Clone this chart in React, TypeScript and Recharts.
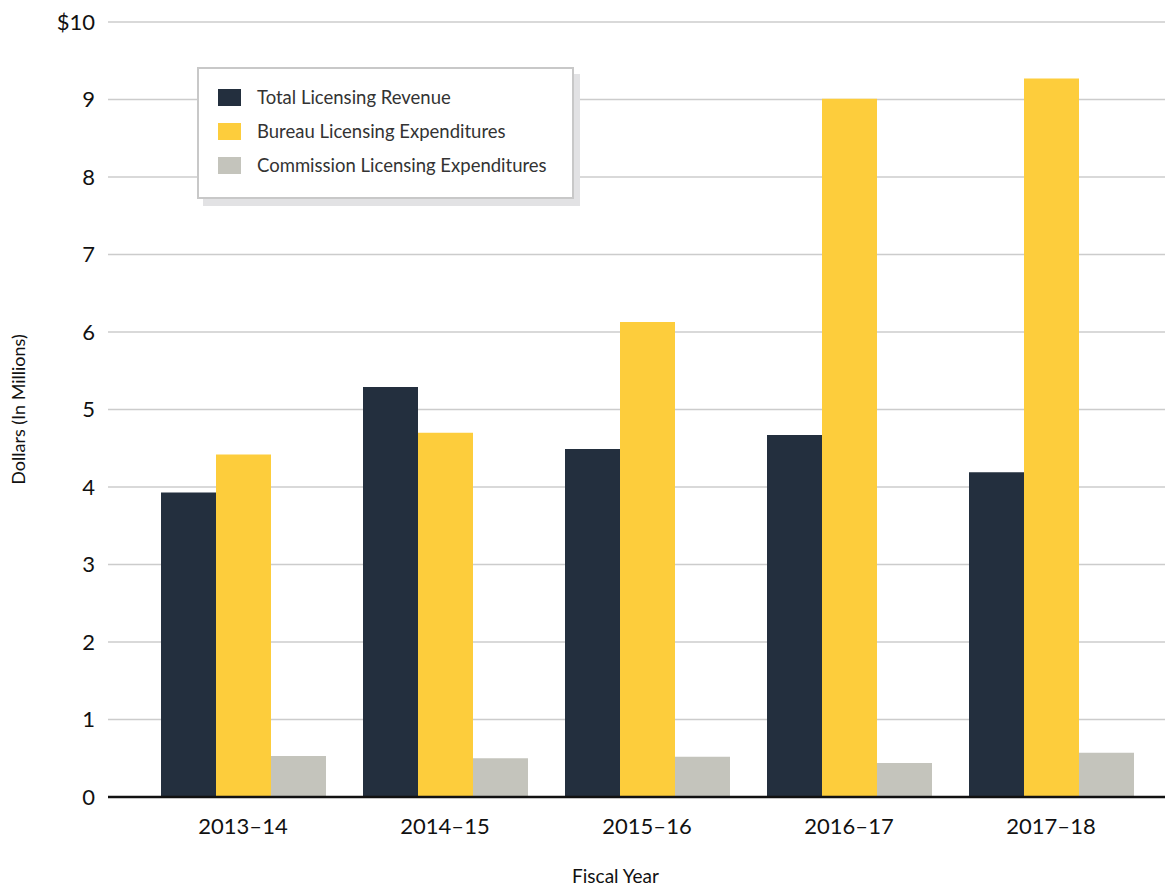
import React from "react"
import {
  BarChart, Bar, XAxis, YAxis, CartesianGrid,
} from "recharts"

const years = ["2013–14", "2014–15", "2015–16", "2016–17", "2017–18"]
const revenue = [3.93, 5.29, 4.49, 4.67, 4.19]
const bureau = [4.42, 4.70, 6.13, 9.01, 9.27]
const commission = [0.53, 0.50, 0.52, 0.44, 0.57]
const yTicks = [0, 1, 2, 3, 4, 5, 6, 7, 8, 9, 10]

const seriesInfo = [
  { key: "revenue", name: "Total Licensing Revenue", color: "#232F3E" },
  { key: "bureau", name: "Bureau Licensing Expenditures", color: "#FDCD3C" },
  { key: "commission", name: "Commission Licensing Expenditures", color: "#C4C4BC" },
]

const chartData = years.map((y, i) => ({
  year: y,
  revenue: revenue[i],
  bureau: bureau[i],
  commission: commission[i],
}))

// legend drawn as a plain box over the plot, like the original
const LegendBox = () => (
  <div
    style={{
      position: "absolute",
      left: 197,
      top: 67,
      width: 373,
      height: 117,
      border: "2px solid #c8c8c8",
      background: "#fff",
      boxShadow: "6px 7px 0 #e2e2e4",
      paddingTop: 11,
    }}
  >
    {seriesInfo.map((s) => (
      <div key={s.key} style={{ display: "flex", alignItems: "center", height: 34, marginLeft: 19 }}>
        <span style={{ width: 23, height: 17, background: s.color, display: "inline-block" }} />
        <span style={{ marginLeft: 16, fontFamily: "Lato", fontSize: 18.5, color: "#333" }}>{s.name}</span>
      </div>
    ))}
  </div>
)

export default function App() {
  return (
    <div style={{ position: "absolute", left: 0, top: 0, width: 1168, height: 888, background: "#fff" }}>
      <BarChart
        width={1168}
        height={888}
        data={chartData}
        margin={{ top: 22, right: 3, left: 0, bottom: 0 }}
        barGap={0}
        barSize={55}
      >
        <CartesianGrid vertical={false} stroke="#cccccc" strokeWidth={1.5} />
        <XAxis
          dataKey="year"
          height={91}
          padding={{ left: 34, right: 13 }}
          tickLine={false}
          tickMargin={15}
          axisLine={{ stroke: "#111", strokeWidth: 2.5 }}
          tick={{ fontFamily: "Lato", fontSize: 22, fill: "#111" }}
          label={{
            value: "Fiscal Year",
            position: "insideBottom",
            offset: 5,
            dx: -21,
            style: { fontFamily: "Lato", fontSize: 19, fill: "#111" },
          }}
        />
        <YAxis
          width={108}
          domain={[0, 10]}
          ticks={yTicks}
          interval={0}
          axisLine={false}
          tickLine={false}
          tickMargin={7}
          tickFormatter={(v) => (v === 10 ? "$10" : String(v))}
          tick={{ fontFamily: "Lato", fontSize: 22, fill: "#111" }}
          label={{
            value: "Dollars (In Millions)",
            angle: -90,
            position: "center",
            dx: -35,
            style: { fontFamily: "Lato", fontSize: 18, fill: "#111", textAnchor: "middle" },
          }}
        />
        {seriesInfo.map((s) => (
          <Bar key={s.key} dataKey={s.key} name={s.name} fill={s.color} isAnimationActive={false} />
        ))}
      </BarChart>
      <LegendBox />
    </div>
  )
}
